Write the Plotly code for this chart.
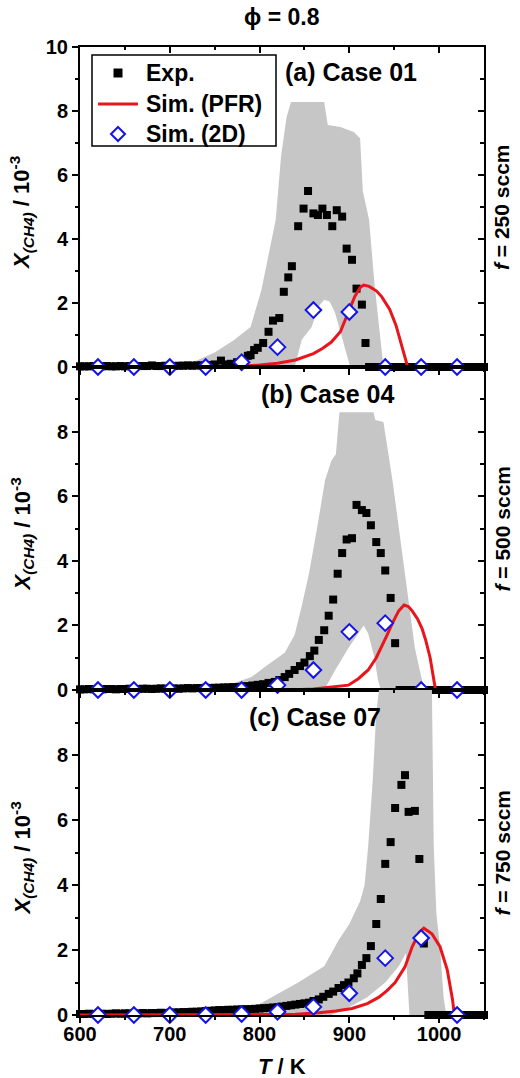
import plotly.graph_objects as go

# ---------------- data ----------------
T_sim2d = [620, 660, 700, 740, 780, 820, 860, 900, 940, 980, 1020]

# Panel (a) Case 01, f = 250 sccm
exp_T_a = [600, 605, 610, 615, 620, 625, 630, 635, 640, 645, 650, 655, 660, 665, 670, 675, 680, 685, 690, 695,
           700, 705, 710, 715, 720, 725, 730, 735, 740, 745, 750,
           757, 762, 768, 775, 782, 787, 790, 794, 798, 804, 810, 815, 822, 827, 832, 836, 843, 849, 854, 860,
           865, 870, 875, 881, 886, 892, 897, 903, 908, 914, 918,
           922, 927, 932, 937, 942, 947, 952, 957, 962, 967, 972, 977, 982, 987, 992, 997, 1002, 1007, 1012,
           1017, 1022, 1027, 1032, 1037, 1042, 1047, 1050]
exp_X_a = [0.02, 0.02, 0.02, 0.03, 0.02, 0.02, 0.03, 0.02, 0.02, 0.03, 0.02, 0.03, 0.02, 0.03, 0.03, 0.03, 0.05,
           0.03, 0.03, 0.04, 0.04, 0.03, 0.04, 0.04, 0.05, 0.04, 0.05, 0.05, 0.06, 0.06, 0.08,
           0.2, 0.08, 0.1, 0.15, 0.12, 0.35, 0.37, 0.53, 0.6, 0.75, 1.1, 1.45, 1.53, 2.35, 2.8, 3.15, 4.4, 4.95,
           5.5, 4.8, 4.75, 4.95, 4.75, 4.4, 4.9, 4.7, 3.7, 3.35, 2.45, 1.95, 0.75,
           0, 0, 0, 0, 0, 0, 0, 0, 0, 0, 0, 0, 0, 0, 0, 0, 0, 0, 0, 0, 0, 0, 0, 0, 0, 0, 0]
pfr_T_a = [600, 650, 700, 750, 780, 800, 820, 840, 860, 870, 880, 890, 899, 906, 912, 916, 922, 930, 936, 945,
           952, 959, 963, 965, 1000, 1020]
pfr_X_a = [0, 0, 0, 0.01, 0.02, 0.06, 0.12, 0.22, 0.42, 0.58, 0.78, 1.1, 1.7, 2.2, 2.48, 2.56, 2.52, 2.38, 2.2,
           1.8, 1.3, 0.6, 0.15, 0, 0, 0]
sim_X_a = [0, 0, 0, 0, 0.15, 0.62, 1.78, 1.72, 0, 0, 0]
band_up_T_a = [700, 730, 750, 772, 790, 802, 810, 818, 824, 830, 835, 872, 876, 890, 905, 912, 915, 922, 928, 938]
band_up_X_a = [0, 0.2, 0.45, 0.85, 1.25, 2.4, 3.5, 4.6, 6.6, 7.8, 8.28, 8.28, 7.56, 7.5, 7.34, 7.15, 5.5, 4.6,
               2.6, 0]
band_lo_T_a = [700, 839, 847, 858, 866, 872, 878, 884, 891, 899, 901, 938]
band_lo_X_a = [0, 0, 0.85, 1.25, 1.9, 2.1, 2.05, 1.7, 1.06, 0.2, 0, 0]

# Panel (b) Case 04, f = 500 sccm
exp_T_b = [600, 605, 610, 615, 620, 625, 630, 635, 640, 645, 650, 655, 660, 665, 670, 675, 680, 685, 690, 695,
           700, 705, 710, 715, 720, 725, 730, 735, 740, 745, 750, 755, 760, 765, 770,
           775, 780, 786, 792, 798, 804, 810, 817, 822, 828, 833, 839, 845, 850, 856, 861, 866, 872, 877, 882,
           887, 892, 897, 903, 908, 914, 919, 924, 930, 935, 940, 946, 951,
           956, 961, 966, 971, 976, 981, 986, 991, 996, 1001, 1006, 1011, 1016, 1021, 1026, 1031, 1036, 1041,
           1046, 1050]
exp_X_b = [0.02, 0.02, 0.03, 0.02, 0.03, 0.02, 0.03, 0.03, 0.02, 0.03, 0.03, 0.04, 0.03, 0.03, 0.04, 0.04, 0.03,
           0.04, 0.05, 0.04, 0.05, 0.05, 0.04, 0.05, 0.06, 0.05, 0.06, 0.06, 0.07, 0.06, 0.07, 0.07, 0.08, 0.08,
           0.09,
           0.09, 0.1, 0.12, 0.14, 0.16, 0.18, 0.22, 0.25, 0.31, 0.4, 0.5, 0.62, 0.74, 0.85, 1.05, 1.22, 1.55,
           1.85, 2.3, 2.8, 3.6, 4.24, 4.66, 4.7, 5.73, 5.57, 5.48, 5.1, 4.58, 4.24, 3.7, 2.85, 1.45,
           0, 0, 0, 0, 0, 0, 0, 0, 0, 0, 0, 0, 0, 0, 0, 0, 0, 0, 0, 0]
pfr_T_b = [600, 700, 800, 840, 860, 880, 899, 910, 921, 930, 936, 942, 948, 955, 961, 966, 970, 976, 981, 985,
           990, 994, 996, 1020]
pfr_X_b = [0, 0, 0, 0.01, 0.03, 0.08, 0.15, 0.35, 0.62, 1.0, 1.33, 1.7, 2.07, 2.45, 2.63, 2.58, 2.45, 2.2,
           1.9, 1.55, 1.0, 0.3, 0, 0]
sim_X_b = [0, 0, 0, 0, 0, 0.15, 0.62, 1.8, 2.07, 0, 0]
band_up_T_b = [740, 770, 791, 805, 828, 839, 847, 855, 864, 873, 880, 885, 889, 927, 929, 938, 948, 959, 966,
               973, 981, 985]
band_up_X_b = [0, 0.2, 0.4, 0.7, 1.15, 1.7, 2.6, 3.6, 5.0, 6.5, 7.1, 7.3, 8.6, 8.6, 8.36, 8.3, 6.5, 4.2, 2.6,
               1.3, 0.3, 0]
band_lo_T_b = [740, 872, 884, 899, 910, 916, 921, 928, 932, 935, 985]
band_lo_X_b = [0, 0, 0.6, 1.3, 1.75, 2.0, 1.75, 1.0, 0.3, 0, 0]

# Panel (c) Case 07, f = 750 sccm
exp_T_c = [600, 605, 610, 615, 620, 625, 630, 635, 640, 645, 650, 655, 660, 665, 670, 675, 680, 685, 690, 695,
           700, 705, 710, 715, 720, 725, 730, 735, 740, 745, 750, 755, 760, 765, 770, 775, 780, 785, 790, 795,
           800, 805, 810, 815, 820, 825, 830,
           835, 840, 845, 850, 855, 860, 866, 871, 877, 882, 888, 894, 899, 905, 909, 914, 919, 924, 930, 935,
           940, 946, 951, 958, 962, 966, 973, 978, 983,
           988, 993, 998, 1003, 1008, 1013, 1018, 1023, 1028, 1033, 1038, 1043, 1048, 1050]
exp_X_c = [0.03, 0.03, 0.04, 0.03, 0.04, 0.04, 0.03, 0.04, 0.05, 0.04, 0.05, 0.05, 0.04, 0.05, 0.06, 0.05, 0.06,
           0.06, 0.07, 0.06, 0.07,
           0.08, 0.08, 0.09, 0.09, 0.1, 0.1, 0.11, 0.12, 0.13, 0.14, 0.15, 0.15, 0.16, 0.16, 0.17, 0.17,
           0.18, 0.18, 0.19, 0.2, 0.21, 0.22, 0.23, 0.24, 0.26, 0.28,
           0.3, 0.32, 0.34, 0.36, 0.38, 0.43, 0.48, 0.56, 0.65, 0.72, 0.83, 0.92, 1.0, 1.13, 1.28, 1.54, 1.75,
           2.12, 2.8, 3.57, 4.65, 5.32, 6.37, 7.08, 7.38, 6.25, 6.28, 4.8, 2.2,
           0, 0, 0, 0, 0, 0, 0, 0, 0, 0, 0, 0, 0, 0]
pfr_T_c = [600, 700, 800, 840, 866, 885, 903, 920, 933, 942, 951, 962, 970, 978, 983, 992, 1001, 1009, 1015,
           1017, 1020]
pfr_X_c = [0, 0, 0, 0.02, 0.07, 0.12, 0.2, 0.35, 0.55, 0.75, 1.0, 1.48, 2.1, 2.55, 2.67, 2.5, 2.1, 1.4, 0.46,
           0, 0]
sim_X_c = [0, 0, 0, 0, 0.03, 0.1, 0.25, 0.67, 1.75, 2.37, 0]
band_up_T_c = [700, 750, 780, 802, 843, 872, 888, 900, 912, 917, 921, 926, 930, 933, 992, 994, 997, 1001, 1005,
               1008]
band_up_X_c = [0.02, 0.05, 0.12, 0.37, 1.0, 1.5, 2.3, 2.8, 3.5, 4.0, 5.2, 7.2, 9.3, 10, 10, 5.2, 3.1, 2.1, 0.55,
               0]
band_lo_T_c = [700, 880, 900, 920, 940, 955, 963, 967, 1008]
band_lo_X_c = [0, 0, 0.25, 0.55, 1.0, 1.5, 1.9, 0, 0]

panel_labels = ["(a) Case 01", "(b) Case 04", "(c) Case 07"]
flow_labels = ["<i>f</i> = 250 sccm", "<i>f</i> = 500 sccm", "<i>f</i> = 750 sccm"]
legend_labels = ["Exp.", "Sim. (PFR)", "Sim. (2D)"]
x_ticks = [600, 700, 800, 900, 1000]
y_ticks_top = [0, 2, 4, 6, 8, 10]
y_ticks = [0, 2, 4, 6, 8]

panels = [
    (exp_T_a, exp_X_a, pfr_T_a, pfr_X_a, sim_X_a, band_up_T_a, band_up_X_a, band_lo_T_a, band_lo_X_a),
    (exp_T_b, exp_X_b, pfr_T_b, pfr_X_b, sim_X_b, band_up_T_b, band_up_X_b, band_lo_T_b, band_lo_X_b),
    (exp_T_c, exp_X_c, pfr_T_c, pfr_X_c, sim_X_c, band_up_T_c, band_up_X_c, band_lo_T_c, band_lo_X_c),
]
for p in panels:
    assert len(p[0]) == len(p[1]), (len(p[0]), len(p[1]))
    assert len(p[2]) == len(p[3])
    assert len(p[5]) == len(p[6]) and len(p[7]) == len(p[8])

# ---------------- style ----------------
W, H = 520, 1078
FONT = "Liberation Sans"
GREY = "#c6c6c6"
RED = "#e8161c"
BLUE = "#1414e6"
x_dom = [80 / W, 484 / W]
y_px = [(47, 367), (367, 690), (690, 1015)]  # (top, bottom) pixel of each panel


def ydom(top, bot):
    return [1 - bot / H, 1 - top / H]


def px(x):
    return x / W


def py(y):
    return 1 - y / H


fig = go.Figure()
layout = {}
annotations = []
shapes = []

for i, (eT, eX, pT, pX, sX, uT, uX, lT, lX) in enumerate(panels):
    n = i + 1
    xa = "x" if n == 1 else f"x{n}"
    ya = "y" if n == 1 else f"y{n}"
    xo = f"x{n + 3}"
    yo = f"y{n + 3}"

    fig.add_trace(go.Scatter(x=uT + lT[::-1], y=uX + lX[::-1], fill="toself", fillcolor=GREY,
                             mode="lines", line=dict(width=0), hoverinfo="skip",
                             xaxis=xa, yaxis=ya))
    fig.add_trace(go.Scatter(x=eT, y=eX, mode="markers", name=legend_labels[0],
                             marker=dict(symbol="square", size=8, color="black"), cliponaxis=False,
                             xaxis=xa, yaxis=ya))
    fig.add_trace(go.Scatter(x=pT, y=pX, mode="lines", name=legend_labels[1],
                             line=dict(color=RED, width=3), xaxis=xa, yaxis=ya))
    fig.add_trace(go.Scatter(x=T_sim2d, y=sX, mode="markers", name=legend_labels[2], cliponaxis=False,
                             marker=dict(symbol="diamond", size=12, color="white",
                                         line=dict(color=BLUE, width=2)),
                             xaxis=xa, yaxis=ya))
    # dummy traces for mirrored (top / right) axes with inward ticks
    fig.add_trace(go.Scatter(x=[None], y=[None], xaxis=xo, yaxis=ya, hoverinfo="skip"))
    fig.add_trace(go.Scatter(x=[None], y=[None], xaxis=xa, yaxis=yo, hoverinfo="skip"))

    top, bot = y_px[i]
    tickfont = dict(family=FONT, size=20, color="black", weight="bold")
    common_x = dict(range=[600, 1050], showgrid=False, zeroline=False, showline=True, linecolor="black",
                    linewidth=2, tickwidth=2, ticklen=6, tickcolor="black", tickvals=x_ticks,
                    automargin=False)
    common_y = dict(range=[0, 10], showgrid=False, zeroline=False, showline=True, linecolor="black",
                    linewidth=2, tickwidth=2, ticklen=6, tickcolor="black", automargin=False)
    layout["xaxis" if n == 1 else f"xaxis{n}"] = dict(
        domain=x_dom, anchor=ya, ticks="outside", showticklabels=(n == 3), tickfont=tickfont,
        ticklabelstandoff=-6,
        minor=dict(tickvals=[650, 750, 850, 950, 1050], ticks="outside", ticklen=3, tickwidth=1.5,
                   tickcolor="black"),
        **common_x)
    layout["yaxis" if n == 1 else f"yaxis{n}"] = dict(
        domain=ydom(top, bot), anchor=xa, ticks="outside", tickfont=tickfont,
        tickvals=(y_ticks_top if n == 1 else y_ticks),
        minor=dict(tickvals=[1, 3, 5, 7, 9], ticks="outside", ticklen=3, tickwidth=1.5, tickcolor="black"),
        **common_y)
    layout[f"xaxis{n + 3}"] = dict(
        overlaying=xa, side="top", anchor=ya, ticks="inside", showticklabels=False,
        minor=dict(tickvals=[650, 750, 850, 950, 1050], ticks="inside", ticklen=3, tickwidth=1.5,
                   tickcolor="black"),
        **common_x)
    layout[f"yaxis{n + 3}"] = dict(
        overlaying=ya, side="right", anchor=xa, ticks="inside", showticklabels=False,
        tickvals=y_ticks_top,
        minor=dict(tickvals=[1, 3, 5, 7, 9], ticks="inside", ticklen=4, tickwidth=1.5, tickcolor="black"),
        **common_y)

    # y-axis title
    annotations.append(dict(
        text="<i>X</i><sub><i>(CH4)</i></sub> / 10<sup>-3</sup>", textangle=-90,
        x=px(22), y=py((top + bot) / 2 + 6), xref="paper", yref="paper",
        xanchor="center", yanchor="middle", showarrow=False,
        font=dict(family=FONT, size=22, color="black", weight="bold")))
    # flow label on the right
    annotations.append(dict(
        text=flow_labels[i], textangle=-90, x=px(502), y=py((top + bot) / 2),
        xref="paper", yref="paper", xanchor="center", yanchor="middle", showarrow=False,
        font=dict(family=FONT, size=21, color="black", weight="bold")))

# panel labels
for txt, (xl, yc) in zip(panel_labels, [(283, 72), (259, 394), (247, 717)]):
    annotations.append(dict(text=txt, x=px(xl), y=py(yc), xref="paper", yref="paper",
                            xanchor="left", yanchor="middle", showarrow=False,
                            font=dict(family=FONT, size=25, color="black", weight="bold")))
# title
annotations.append(dict(text="ϕ = 0.8", x=px(282), y=py(17), xref="paper", yref="paper",
                        xanchor="center", yanchor="middle", showarrow=False,
                        font=dict(family=FONT, size=23, color="black", weight="bold")))
# x title
annotations.append(dict(text="<i>T</i> / K", x=px(282), y=py(1066), xref="paper", yref="paper",
                        xanchor="center", yanchor="middle", showarrow=False,
                        font=dict(family=FONT, size=22, color="black", weight="bold")))

# ---- legend box (drawn with shapes + annotations) ----
shapes.append(dict(type="rect", xref="paper", yref="paper", x0=px(92), x1=px(276), y0=py(146), y1=py(55),
                   line=dict(color="black", width=1.5), fillcolor="white", layer="above"))
row_y = [73, 104, 134]
sym_x = 118
shapes.append(dict(type="rect", xref="paper", yref="paper", x0=px(sym_x - 4.5), x1=px(sym_x + 4.5),
                   y0=py(row_y[0] + 4.5), y1=py(row_y[0] - 4.5), line=dict(width=0), fillcolor="black",
                   layer="above"))
shapes.append(dict(type="line", xref="paper", yref="paper", x0=px(98), x1=px(138), y0=py(row_y[1]),
                   y1=py(row_y[1]), line=dict(color=RED, width=3), layer="above"))
d = 7
shapes.append(dict(type="path", xref="paper", yref="paper",
                   path=(f"M {px(sym_x)},{py(row_y[2] - d)} L {px(sym_x + d)},{py(row_y[2])} "
                         f"L {px(sym_x)},{py(row_y[2] + d)} L {px(sym_x - d)},{py(row_y[2])} Z"),
                   line=dict(color=BLUE, width=2), fillcolor="white", layer="above"))
for txt, yy in zip(legend_labels, row_y):
    annotations.append(dict(text=txt, x=px(144), y=py(yy), xref="paper", yref="paper",
                            xanchor="left", yanchor="middle", showarrow=False,
                            font=dict(family=FONT, size=23, color="black", weight="bold")))

fig.update_layout(
    width=W, height=H, margin=dict(l=0, r=0, t=0, b=0, autoexpand=False),
    paper_bgcolor="white", plot_bgcolor="white", hovermode=False, showlegend=False,
    annotations=annotations, shapes=shapes,
    **layout,
)

fig.write_html("out.html")
